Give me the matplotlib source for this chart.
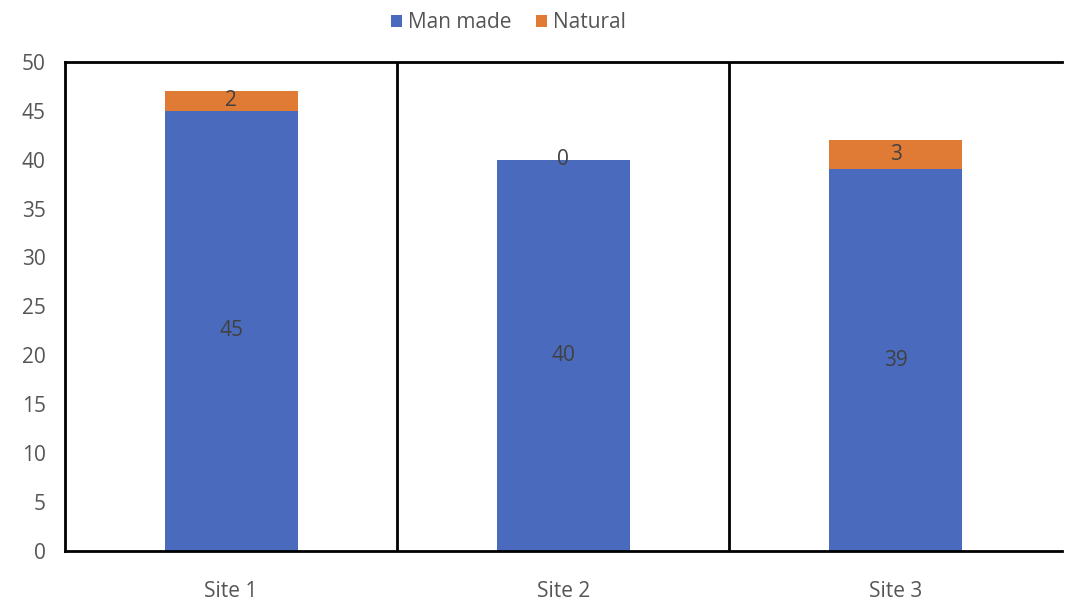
import matplotlib
matplotlib.use('Agg')
import matplotlib.pyplot as plt

sites = ['Site 1', 'Site 2', 'Site 3']
man_made = [45, 40, 39]
natural = [2, 0, 3]

plt.rcParams['font.family'] = ['Open Sans', 'DejaVu Sans']

fig = plt.figure(figsize=(10.66, 6.06), dpi=100)
ax = fig.add_axes([0.061, 0.091, 0.935, 0.807])

x = range(len(sites))
b1 = ax.bar(x, man_made, width=0.4, color='#4a6bbd', label='Man made')
b2 = ax.bar(x, natural, width=0.4, bottom=man_made, color='#e07b35', label='Natural')

for i in x:
    ax.text(i, man_made[i] / 2, str(man_made[i]), ha='center', va='center',
            fontsize=15, color='#404040')
    ax.text(i, man_made[i] + natural[i] / 2, str(natural[i]), ha='center', va='center',
            fontsize=15, color='#404040')

ax.set_xlim(-0.5, 2.5)
ax.set_ylim(0, 50)
ax.set_yticks(range(0, 51, 5))
ax.set_xticks(list(x))
ax.set_xticklabels(sites)
ax.tick_params(length=0, labelsize=15, colors='#555555', pad=14)
ax.tick_params(axis='x', pad=22)

for s in ['left', 'top', 'bottom']:
    ax.spines[s].set_linewidth(2)
    ax.spines[s].set_color('black')
ax.spines['right'].set_visible(False)
ax.vlines([0.5, 1.5], 0, 50, color='black', linewidth=2)

ax.legend(loc='lower center', bbox_to_anchor=(0.445, 1.02), ncol=2, frameon=False,
          fontsize=15, handlelength=0.5, handleheight=0.5, handletextpad=0.3,
          columnspacing=1.2, labelcolor='#555555')

fig.savefig('out.png', dpi=100)
